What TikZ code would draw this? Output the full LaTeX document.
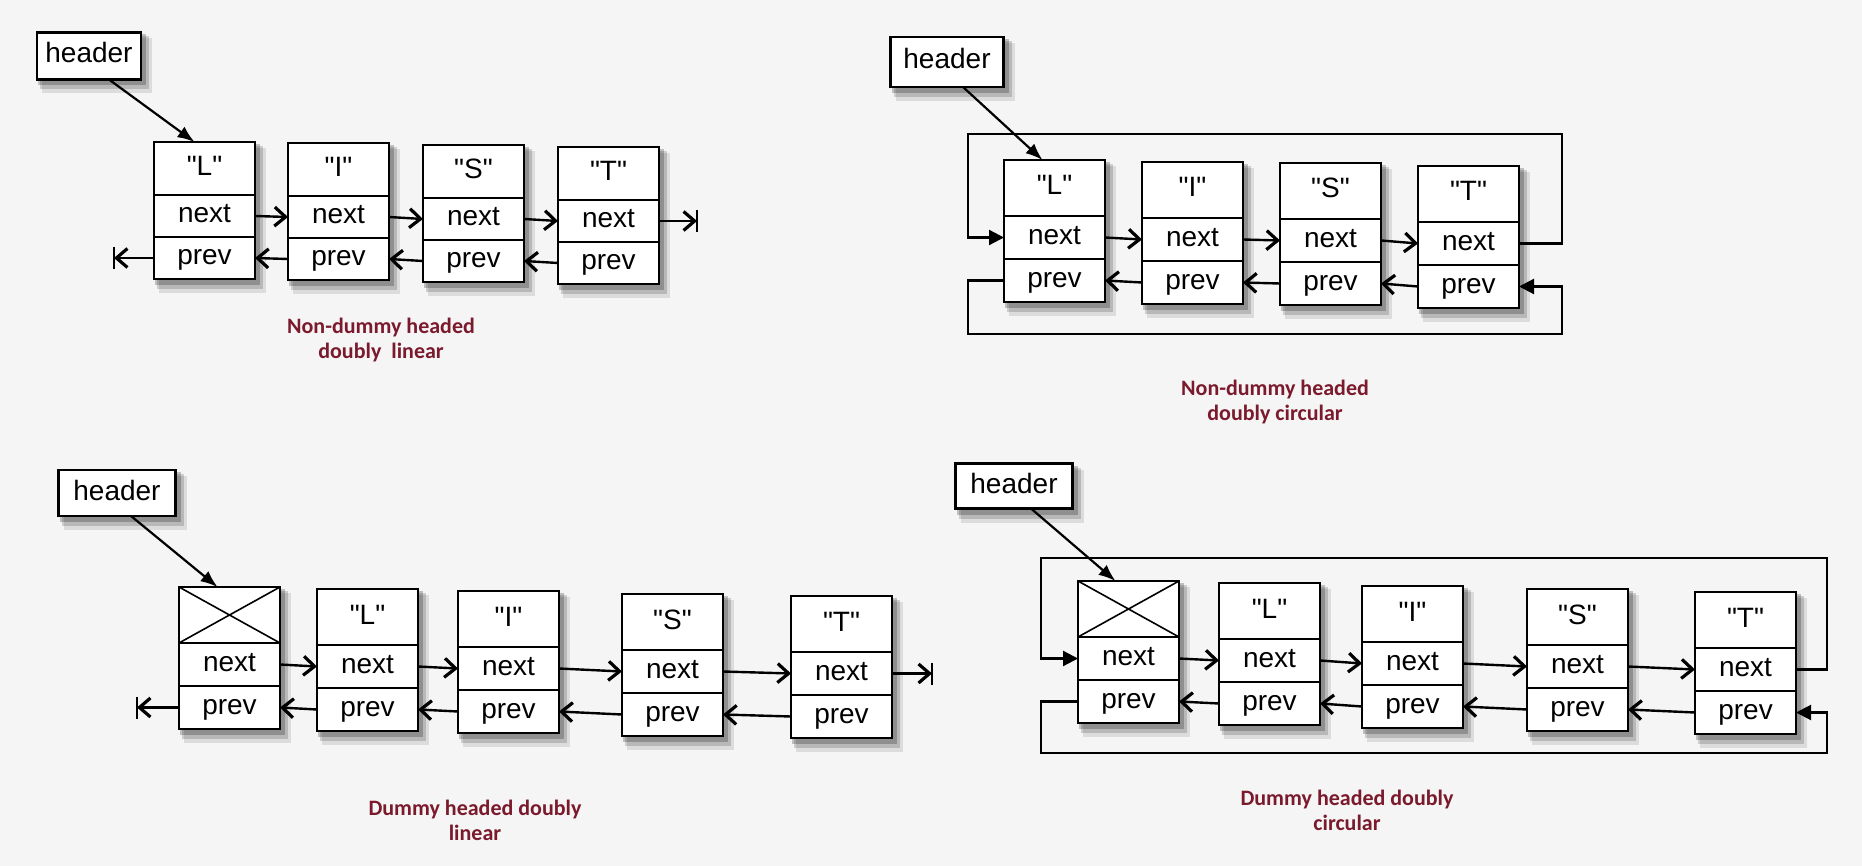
\documentclass[tikz,border=0pt]{standalone}
\usepackage{fontspec}
\setmainfont{Liberation Sans}[Ligatures=TeXOff]
\newfontfamily\capfont{Carlito}
\usetikzlibrary{arrows.meta,backgrounds}
\definecolor{capred}{RGB}{122,26,44}
\definecolor{paper}{RGB}{245,245,245}
\newcommand\nodefont{\fontsize{28}{32}\selectfont}
\newcommand\ha{56pt}
\newcommand\hb{43pt}
\newcommand\mkshadow[2]{%
 \begin{scope}[on background layer]
 \fill[black,opacity=0.22] ([xshift=1pt,yshift=-2pt]#1.north west) rectangle ([xshift=5pt,yshift=-6pt]#2.south east);
 \fill[black,opacity=0.16] ([xshift=3pt,yshift=-4pt]#1.north west) rectangle ([xshift=8pt,yshift=-10pt]#2.south east);
 \fill[black,opacity=0.10] ([xshift=5pt,yshift=-6pt]#1.north west) rectangle ([xshift=11pt,yshift=-14pt]#2.south east);
 \end{scope}}
\newcommand\mknode[4]{%
 \node[cellA,anchor=north west] (#1a) at (#2,#3) {#4};
 \node[cellB,anchor=north] (#1b) at (#1a.south) {next};
 \node[cellB,anchor=north] (#1c) at (#1b.south) {prev};
 \mkshadow{#1a}{#1c}}
\newcommand\mkdummy[3]{%
 \node[cellA,anchor=north west] (#1a) at (#2,#3) {};
 \draw[crossl] (#1a.north west) -- (#1a.south east) (#1a.north east) -- (#1a.south west);
 \node[cellB,anchor=north] (#1b) at (#1a.south) {next};
 \node[cellB,anchor=north] (#1c) at (#1b.south) {prev};
 \mkshadow{#1a}{#1c}}
\begin{document}
\begin{tikzpicture}[x=1pt,y=-1pt,
  cell/.style={draw,fill=white,line width=2.5pt,minimum width=101pt,inner sep=0pt,outer sep=0pt,
    text height=20pt,text depth=6pt,font=\nodefont},
  cellA/.style={cell,minimum height=\ha},
  cellB/.style={cell,minimum height=\hb},
  crossl/.style={line width=1.6pt},
  hdr/.style={draw,fill=white,line width=2.2pt,inner sep=0pt,outer sep=0pt,text height=20pt,text depth=6pt,font=\nodefont},
  link/.style={line width=2.4pt,-{Straight Barb[length=11pt,width=19pt,line width=3.2pt]}},
  barl/.style={line width=2.4pt},
  harrow/.style={line width=2.2pt,-{Latex[length=17pt,width=13pt]}},
  loopl/.style={line width=2.2pt,-{Triangle[length=15pt,width=15pt]}},
  captext/.style={font=\capfont\bfseries\fontsize{22}{25}\selectfont,text=capred,align=center}]
\begin{scope}[on background layer]
\fill[paper] (0,0) rectangle (1862,866);
\end{scope}
\useasboundingbox (0,0) rectangle (1862,866);

% ---------------- Panel 1: non-dummy doubly linear
\renewcommand\ha{53pt}\renewcommand\hb{42pt}
\node[hdr,minimum width=104pt,minimum height=47pt] (h1) at (89,56) {header};
\mkshadow{h1}{h1}
\mknode{p1L}{154}{142}{"L"}
\mknode{p1I}{288}{143}{"I"}
\mknode{p1S}{423}{145}{"S"}
\mknode{p1T}{558}{147}{"T"}
\draw[harrow] ([xshift=20pt]h1.south) -- ([xshift=-10pt]p1La.north);
\draw[link] (p1Lb.east) -- (p1Ib.west);
\draw[link] (p1Ib.east) -- (p1Sb.west);
\draw[link] (p1Sb.east) -- (p1Tb.west);
\draw[link] (p1Tb.east) -- ++(38,0) coordinate (p1e);
\draw[barl] (p1e) ++(0,-11) -- ++(0,22);
\draw[link] (p1Ic.west) -- (p1Lc.east);
\draw[link] (p1Sc.west) -- (p1Ic.east);
\draw[link] (p1Tc.west) -- (p1Sc.east);
\draw[link] (p1Lc.west) -- ++(-40,0) coordinate (p1s);
\draw[barl] (p1s) ++(0,-11) -- ++(0,22);
\node[captext] (c1) at (381,340) {Non-dummy headed\\doubly\ \ linear};

% ---------------- Panel 2: non-dummy doubly circular
\renewcommand\ha{56pt}\renewcommand\hb{43pt}
\node[hdr,minimum width=113pt,minimum height=50pt] (h2) at (947,62) {header};
\mkshadow{h2}{h2}
\mknode{p2L}{1004}{160}{"L"}
\mknode{p2I}{1142}{162}{"I"}
\mknode{p2S}{1280}{163}{"S"}
\mknode{p2T}{1418}{166}{"T"}
\coordinate (p2tl) at (968,134);
\coordinate (p2tr) at (1562,134);
\coordinate (p2bl) at (968,334);
\coordinate (p2br) at (1562,334);
\draw[link] (p2Lb.east) -- (p2Ib.west);
\draw[link] (p2Ib.east) -- (p2Sb.west);
\draw[link] (p2Sb.east) -- (p2Tb.west);
\draw[link] (p2Ic.west) -- (p2Lc.east);
\draw[link] (p2Sc.west) -- (p2Ic.east);
\draw[link] (p2Tc.west) -- (p2Sc.east);
\draw[loopl] (p2Tb.east) -| (p2tr) -- (p2tl) |- (p2Lb.west);
\draw[loopl] (p2Lc.west) -| (p2bl) -- (p2br) |- (p2Tc.east);
\draw[harrow] ([xshift=16pt]h2.south) -- ([xshift=-12pt]p2La.north);
\node[captext] (c2) at (1275,402) {Non-dummy headed\\doubly circular};

% ---------------- Panel 3: dummy doubly linear
\node[hdr,minimum width=117pt,minimum height=46pt] (h3) at (117,493) {header};
\mkshadow{h3}{h3}
\mkdummy{p3X}{179}{587}
\mknode{p3L}{317}{589}{"L"}
\mknode{p3I}{458}{591}{"I"}
\mknode{p3S}{622}{594}{"S"}
\mknode{p3T}{791}{596}{"T"}
\draw[harrow] ([xshift=14pt]h3.south) -- ([xshift=-12pt]p3Xa.north);
\draw[link] (p3Xb.east) -- (p3Lb.west);
\draw[link] (p3Lb.east) -- (p3Ib.west);
\draw[link] (p3Ib.east) -- (p3Sb.west);
\draw[link] (p3Sb.east) -- (p3Tb.west);
\draw[link] (p3Tb.east) -- ++(40,0) coordinate (p3e);
\draw[barl] (p3e) ++(0,-11) -- ++(0,22);
\draw[link] (p3Lc.west) -- (p3Xc.east);
\draw[link] (p3Ic.west) -- (p3Lc.east);
\draw[link] (p3Sc.west) -- (p3Ic.east);
\draw[link] (p3Tc.west) -- (p3Sc.east);
\draw[link] (p3Xc.west) -- ++(-42,0) coordinate (p3s);
\draw[barl] (p3s) ++(0,-11) -- ++(0,22);
\node[captext] (c3) at (475,820) {Dummy headed doubly\\linear};

% ---------------- Panel 4: dummy doubly circular
\node[hdr,minimum width=117pt,minimum height=45pt] (h4) at (1014,486) {header};
\mkshadow{h4}{h4}
\mkdummy{p4X}{1078}{581}
\mknode{p4L}{1219}{583}{"L"}
\mknode{p4I}{1362}{586}{"I"}
\mknode{p4S}{1527}{589}{"S"}
\mknode{p4T}{1695}{592}{"T"}
\coordinate (p4tl) at (1041,558);
\coordinate (p4tr) at (1827,558);
\coordinate (p4bl) at (1041,753);
\coordinate (p4br) at (1827,753);
\draw[link] (p4Xb.east) -- (p4Lb.west);
\draw[link] (p4Lb.east) -- (p4Ib.west);
\draw[link] (p4Ib.east) -- (p4Sb.west);
\draw[link] (p4Sb.east) -- (p4Tb.west);
\draw[link] (p4Lc.west) -- (p4Xc.east);
\draw[link] (p4Ic.west) -- (p4Lc.east);
\draw[link] (p4Sc.west) -- (p4Ic.east);
\draw[link] (p4Tc.west) -- (p4Sc.east);
\draw[loopl] (p4Tb.east) -| (p4tr) -- (p4tl) |- (p4Xb.west);
\draw[loopl] (p4Xc.west) -| (p4bl) -- (p4br) |- (p4Tc.east);
\draw[harrow] ([xshift=17pt]h4.south) -- ([xshift=-13pt]p4Xa.north);
\node[captext] (c4) at (1347,810) {Dummy headed doubly\\circular};
\end{tikzpicture}
\end{document}
